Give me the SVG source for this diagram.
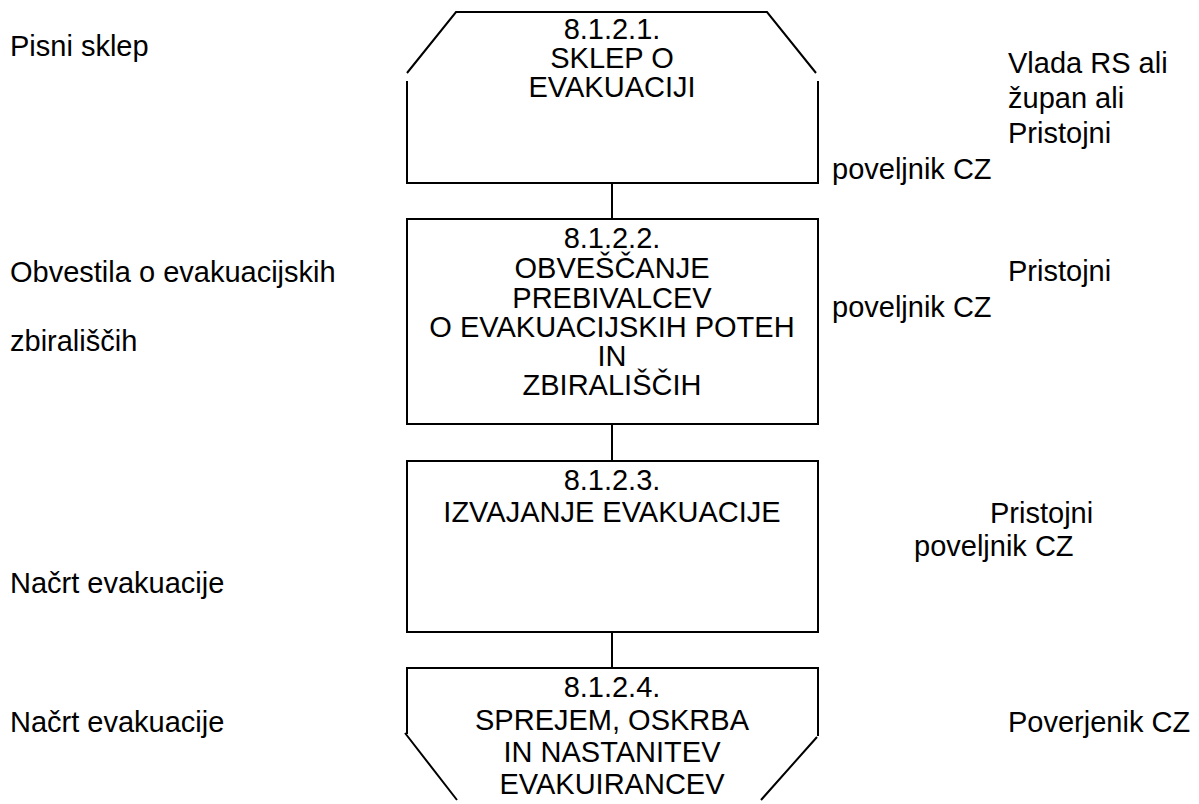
<svg xmlns="http://www.w3.org/2000/svg" width="1199" height="804" viewBox="0 0 1199 804">
<style>
.t{font-family:"Liberation Sans",Arial,sans-serif;font-size:29px;fill:#000}
.c{text-anchor:middle}
.s{fill:none;stroke:#000;stroke-width:2}
</style>
<rect width="1199" height="804" fill="#fff"/>
<g id="connectors" class="s">
<line x1="612" y1="183" x2="612" y2="219"/>
<line x1="612" y1="424" x2="612" y2="461"/>
<line x1="612" y1="632" x2="612" y2="668"/>
</g>
<g id="node1">
<path class="s" d="M407,73 L456,12 L767,12 L816,73 M818,81 L818,183 L407,183 L407,81"/>
<text class="t c" x="612" y="39">8.1.2.1.</text>
<text class="t c" x="612" y="68">SKLEP O</text>
<text class="t c" x="612" y="97">EVAKUACIJI</text>
</g>
<g id="node2">
<rect class="s" x="407" y="219" width="411" height="205"/>
<text class="t c" x="612" y="248">8.1.2.2.</text>
<text class="t c" x="612" y="278">OBVEŠČANJE</text>
<text class="t c" x="612" y="308">PREBIVALCEV</text>
<text class="t c" x="612" y="337">O EVAKUACIJSKIH POTEH</text>
<text class="t c" x="612" y="366">IN</text>
<text class="t c" x="612" y="395">ZBIRALIŠČIH</text>
</g>
<g id="node3">
<rect class="s" x="407" y="461" width="411" height="171"/>
<text class="t c" x="612" y="490">8.1.2.3.</text>
<text class="t c" x="612" y="522">IZVAJANJE EVAKUACIJE</text>
</g>
<g id="node4">
<path class="s" d="M407,734 L407,668 L818,668 L818,736 M405,733 L457,800 M817,737 L761,800"/>
<text class="t c" x="612" y="697">8.1.2.4.</text>
<text class="t c" x="612" y="730">SPREJEM, OSKRBA</text>
<text class="t c" x="612" y="762">IN NASTANITEV</text>
<text class="t c" x="612" y="794">EVAKUIRANCEV</text>
</g>
<g id="left-labels">
<text class="t" x="10" y="56">Pisni sklep</text>
<text class="t" x="10" y="282">Obvestila o evakuacijskih</text>
<text class="t" x="10" y="351">zbirališčih</text>
<text class="t" x="10" y="593">Načrt evakuacije</text>
<text class="t" x="10" y="732">Načrt evakuacije</text>
</g>
<g id="right-labels">
<text class="t" x="1008" y="73">Vlada RS ali</text>
<text class="t" x="1008" y="108">župan ali</text>
<text class="t" x="1008" y="143">Pristojni</text>
<text class="t" x="832" y="179">poveljnik CZ</text>
<text class="t" x="1008" y="281">Pristojni</text>
<text class="t" x="832" y="317">poveljnik CZ</text>
<text class="t" x="990" y="523">Pristojni</text>
<text class="t" x="914" y="556">poveljnik CZ</text>
<text class="t" x="1008" y="732">Poverjenik CZ</text>
</g>
</svg>
